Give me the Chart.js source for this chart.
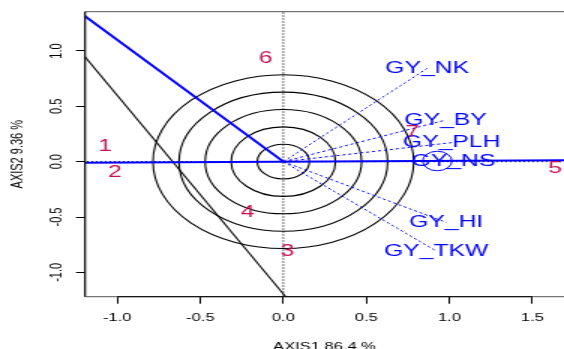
<!DOCTYPE html>
<html>
<head>
<meta charset="utf-8">
<script src="https://cdn.jsdelivr.net/npm/chart.js@4.4.1/dist/chart.umd.min.js"></script>
<style>
html,body{margin:0;padding:0;background:#fff;overflow:hidden;}
canvas{display:block;}
</style>
</head>
<body>
<canvas id="c" width="376" height="349" style="width:564px;height:349px;"></canvas>
<script>
// ---- data ----
const xTicks = [-1.0, -0.5, 0.0, 0.5, 1.0, 1.5];
const yTicks = [-1.0, -0.5, 0.0, 0.5, 1.0];
const xTitle = 'AXIS1 86.4 %';
const yTitle = 'AXIS2 9.36 %';

const genotypeLabels = ['1', '2', '3', '4', '5', '6', '7'];
const genotypeX = [-1.074, -1.014, 0.024, -0.214, 1.637, -0.106, 0.777];
const genotypeY = [0.135, -0.093, -0.813, -0.457, -0.060, 0.934, 0.262];

const traitLabels = ['GY_NK', 'GY_BY', 'GY_PLH', 'GY_NS', 'GY_HI', 'GY_TKW'];
const traitX = [0.866, 0.977, 1.014, 1.024, 0.980, 0.920];
const traitY = [0.843, 0.376, 0.172, 0.006, -0.548, -0.807];

const circleRadii = [0.157, 0.314, 0.471, 0.628, 0.785];
const aecCenter = [0.927, 0.006];
const aecRadius = 0.088;

const aecAxisX = [-1.3, 1.8];
const aecAxisY = [-0.0098, 0.0135];
const ordinateX = [-1.3, 0.0];
const ordinateY = [1.431, 0.0];
const blackLineX = [-1.3, 0.015];
const blackLineY = [1.138, -1.222];
const zeroVX = [0, 0], zeroVY = [-1.4, 1.5];
const zeroHX = [-1.4, 1.8], zeroHY = [0, 0];

const BLUE = '#0000FF';
const GENO = '#C8104E';
const FONT = '"Liberation Sans", Arial, Helvetica, sans-serif';

function pts(xs, ys) { return xs.map((v, i) => ({x: v, y: ys[i]})); }

const datasets = [];
datasets.push({data: pts(aecAxisX, aecAxisY), borderColor: BLUE, borderWidth: 2, order: 1});
datasets.push({data: pts(ordinateX, ordinateY), borderColor: BLUE, borderWidth: 2, order: 1});
datasets.push({data: pts(blackLineX, blackLineY), borderColor: '#000', borderWidth: 1.1, order: 3});
datasets.push({data: pts(zeroVX, zeroVY), borderColor: '#000', borderWidth: 1, borderDash: [1.2, 1.8], order: 4});
datasets.push({data: pts(zeroHX, zeroHY), borderColor: '#000', borderWidth: 1, borderDash: [1.2, 1.8], order: 4});
traitLabels.forEach((t, i) => {
  datasets.push({data: pts([0, traitX[i]], [0, traitY[i]]), borderColor: BLUE, borderWidth: 1, borderDash: [2, 2], order: 2});
});
datasets.forEach(d => { d.showLine = true; d.pointRadius = 0; d.fill = false; d.tension = 0; });

const overlay = {
  id: 'overlay',
  beforeDatasetsDraw(chart) {
    const {ctx, chartArea: a, scales: {x, y}} = chart;
    ctx.save();
    ctx.beginPath(); ctx.rect(a.left, a.top, a.right - a.left, a.bottom - a.top); ctx.clip();
    const cx = x.getPixelForValue(0), cy = y.getPixelForValue(0);
    ctx.strokeStyle = '#000'; ctx.lineWidth = 1.1;
    circleRadii.forEach(r => {
      const rx = x.getPixelForValue(r) - cx, ry = cy - y.getPixelForValue(r);
      ctx.beginPath(); ctx.ellipse(cx, cy, rx, ry, 0, 0, 2 * Math.PI); ctx.stroke();
    });
    ctx.restore();
  },
  afterDatasetsDraw(chart) {
    const {ctx, chartArea: a, scales: {x, y}} = chart;
    ctx.save();
    // average environment circle
    const ax = x.getPixelForValue(aecCenter[0]), ay = y.getPixelForValue(aecCenter[1]);
    const arx = x.getPixelForValue(aecCenter[0] + aecRadius) - ax;
    const ary = ay - y.getPixelForValue(aecCenter[1] + aecRadius);
    ctx.strokeStyle = BLUE; ctx.lineWidth = 1;
    ctx.beginPath(); ctx.ellipse(ax, ay, arx, ary, 0, 0, 2 * Math.PI); ctx.stroke();
    // labels
    ctx.font = '16.5px ' + FONT;
    ctx.textAlign = 'center'; ctx.textBaseline = 'middle';
    ctx.fillStyle = BLUE;
    traitLabels.forEach((t, i) => ctx.fillText(t, x.getPixelForValue(traitX[i]), y.getPixelForValue(traitY[i])));
    ctx.fillStyle = GENO;
    genotypeLabels.forEach((t, i) => ctx.fillText(t, x.getPixelForValue(genotypeX[i]), y.getPixelForValue(genotypeY[i])));
    ctx.restore();
  },
  afterDraw(chart) {
    const {ctx, chartArea: a, scales: {x, y}} = chart;
    ctx.save();
    // frame
    ctx.strokeStyle = '#555'; ctx.lineWidth = 1;
    ctx.beginPath();
    ctx.moveTo(a.right, a.top); ctx.lineTo(a.left, a.top); ctx.lineTo(a.left, a.bottom); ctx.lineTo(a.right, a.bottom);
    ctx.stroke();
    ctx.strokeStyle = '#000';
    ctx.beginPath();
    ctx.moveTo(x.getPixelForValue(xTicks[0]), a.bottom); ctx.lineTo(x.getPixelForValue(xTicks[xTicks.length - 1]), a.bottom);
    ctx.moveTo(a.left, a.top); ctx.lineTo(a.left, a.bottom);
    ctx.stroke();
    // y tick labels (rotated)
    ctx.fillStyle = '#000';
    ctx.font = '11px ' + FONT;
    ctx.textAlign = 'center'; ctx.textBaseline = 'middle';
    yTicks.forEach(v => {
      ctx.save();
      ctx.translate(37.5, y.getPixelForValue(v));
      ctx.rotate(-Math.PI / 2);
      ctx.fillText(v.toFixed(1), 0, 0);
      ctx.restore();
    });
    // axis titles
    ctx.textBaseline = 'alphabetic';
    ctx.fillText(xTitle, (a.left + a.right) / 2, 350);
    ctx.save();
    ctx.translate(14.5, (a.top + a.bottom) / 2);
    ctx.rotate(-Math.PI / 2);
    ctx.fillText(yTitle, 0, 0);
    ctx.restore();
    ctx.restore();
  }
};

Chart.defaults.font.family = FONT;
new Chart(document.getElementById('c'), {
  type: 'scatter',
  data: {datasets},
  plugins: [overlay],
  options: {
    responsive: false,
    devicePixelRatio: 1,
    animation: false,
    layout: {padding: {top: 11.7, left: 0, right: 0, bottom: 0}},
    plugins: {legend: {display: false}, tooltip: {enabled: false}},
    scales: {
      x: {
        type: 'linear', min: -1.194, max: 1.69,
        afterBuildTicks: s => { s.ticks = xTicks.map(v => ({value: v})); },
        afterFit: s => { s.height = 52.3; },
        ticks: {callback: v => Number(v).toFixed(1), font: {size: 11}, color: '#000', padding: 8, maxRotation: 0, autoSkip: false},
        grid: {display: true, drawOnChartArea: false, drawTicks: true, tickLength: 7, color: '#000'},
        border: {display: false}
      },
      y: {
        type: 'linear', min: -1.22, max: 1.355,
        afterBuildTicks: s => { s.ticks = yTicks.map(v => ({value: v})); },
        afterFit: s => { s.width = 56.7; },
        ticks: {display: false},
        grid: {display: true, drawOnChartArea: false, drawTicks: true, tickLength: 6, color: '#000'},
        border: {display: false}
      }
    }
  }
});
</script>
</body>
</html>
